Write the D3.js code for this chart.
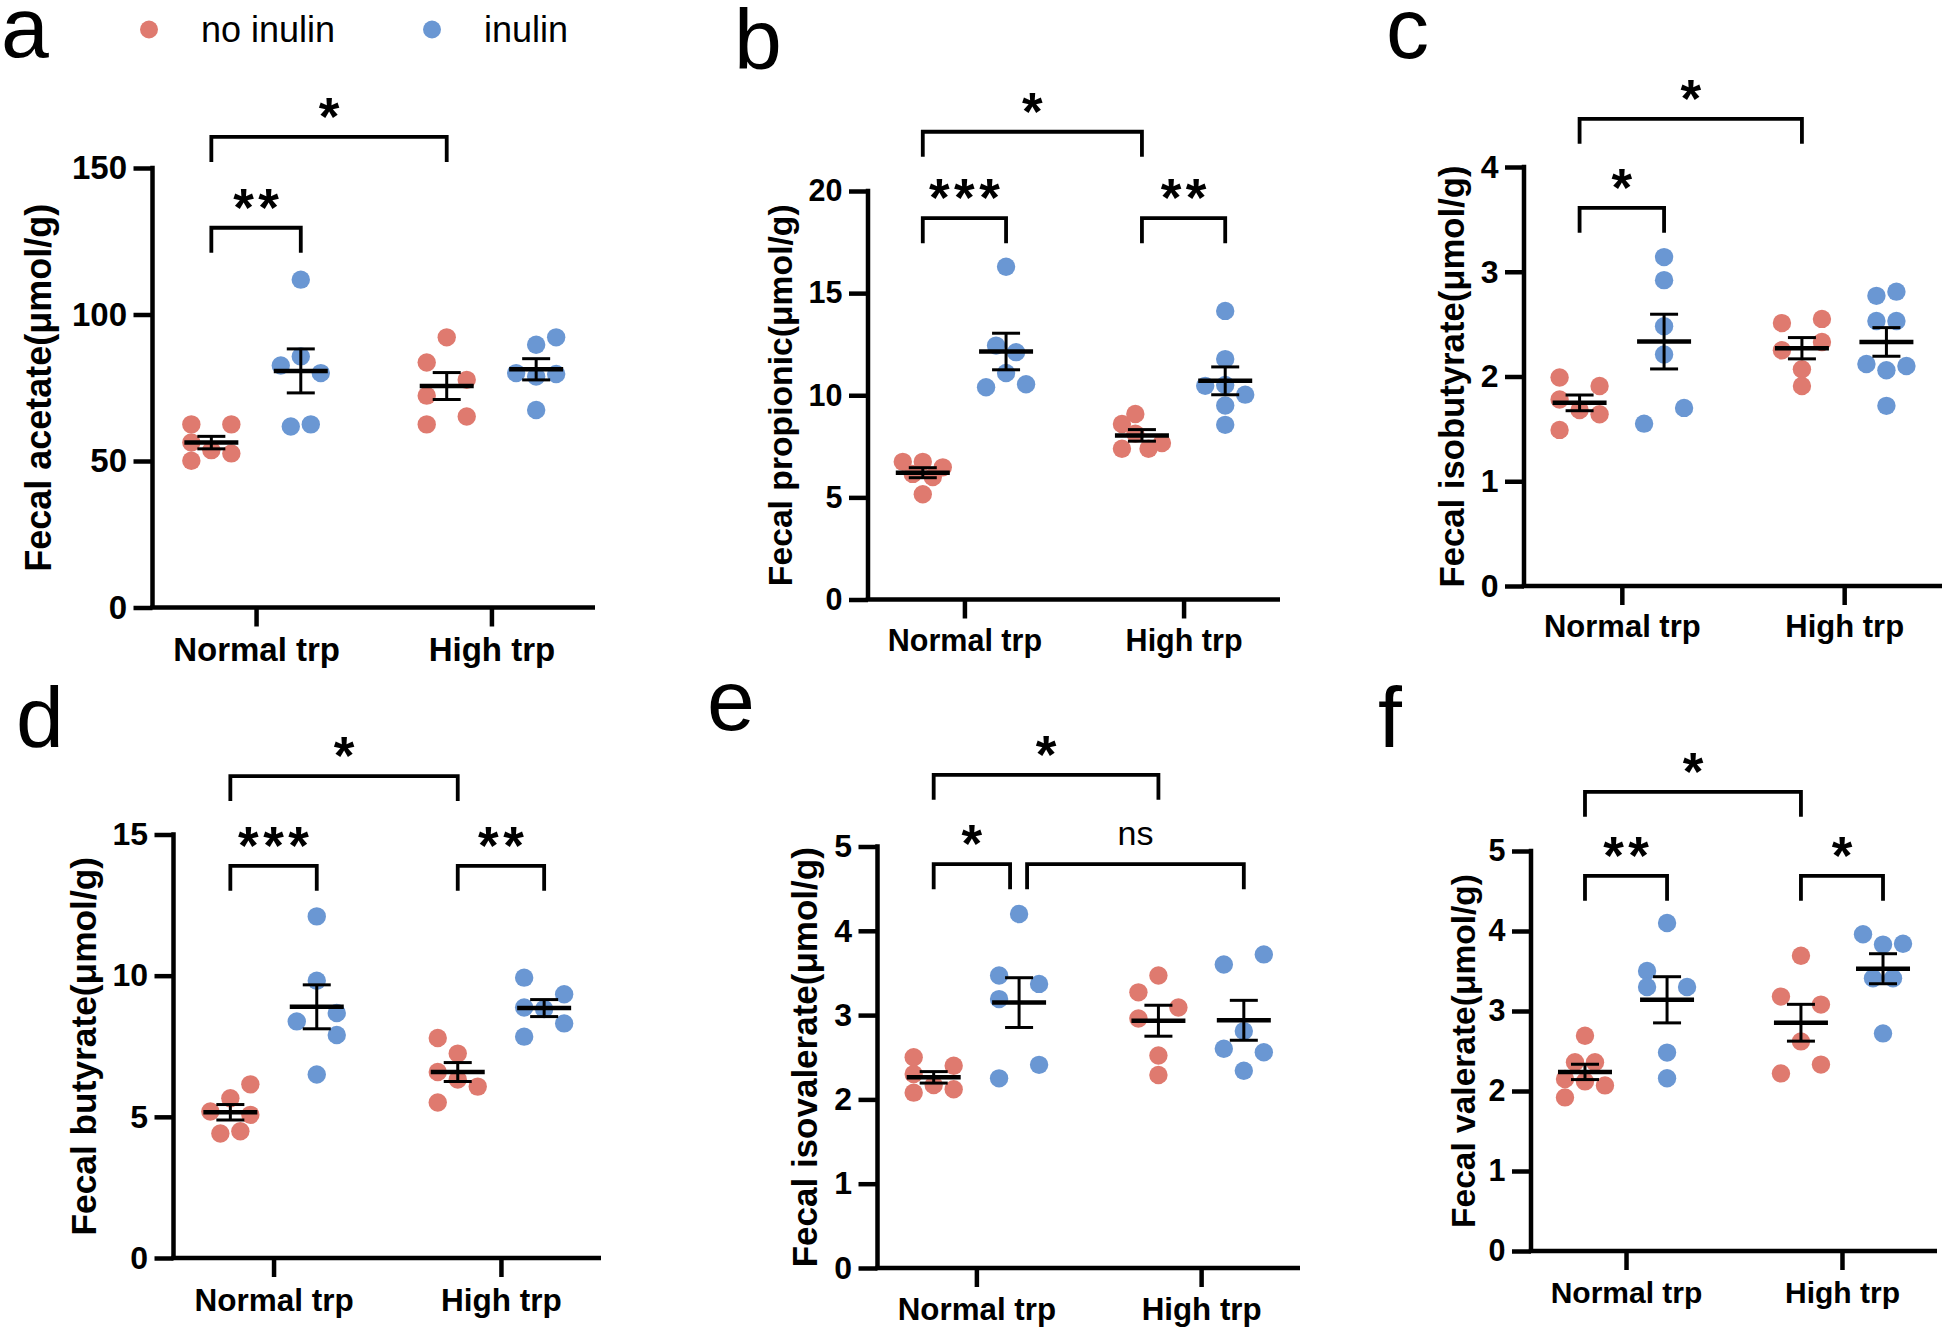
<!DOCTYPE html>
<html><head><meta charset="utf-8">
<script src="https://cdn.jsdelivr.net/npm/d3@7"></script>
<style>body{margin:0;background:#fff}svg{display:block}</style>
</head><body>
<svg id="chart" width="1950" height="1331"></svg>
<script>
// ---------- data ----------
const categories = ["Normal trp", "High trp"];
const seriesNames = ["no inulin", "inulin"];
const seriesColors = ["#DF7A6F", "#6A97D3"];

// a: acetate
const acetateNormalNo = [62.5, 62.5, 56.3, 53.7, 52.6, 50.1];
const acetateNormalIn = [111.9, 82.6, 85.7, 80.0, 61.8, 62.5];
const acetateHighNo   = [92.2, 83.6, 77.7, 72.3, 65.2, 62.5];
const acetateHighIn   = [92.2, 89.7, 80.0, 78.8, 79.7, 67.4];
const acetateJitter = [[-1, 1, -1, 0, 1, -1], [0, -1, 0, 1, -0.5, 0.5], [0, -1, 1, -1, 1, -1], [1, 0, -1, 0, 1, 0]];
const acetateTicks = [0, 50, 100, 150];

// b: propionic
const propionicNormalNo = [6.74, 6.74, 6.47, 6.15, 6.0, 5.15];
const propionicNormalIn = [16.29, 12.43, 12.11, 11.09, 10.39, 10.54];
const propionicHighNo   = [9.08, 8.59, 8.12, 7.38, 7.38, 7.66];
const propionicHighIn   = [14.13, 11.77, 10.46, 10.5, 10.03, 9.5, 8.55];
const propionicJitter = [[-1, 0, 1, -0.5, 0.5, 0], [0, -0.5, 0.5, 0, -1, 1], [-0.33, -1, -0.33, -1, 0.33, 1], [0, 0, -1, 0, 1, 0, 0]];
const propionicTicks = [0, 5, 10, 15, 20];

// c: isobutyrate
const isobutyrateNormalNo = [1.99, 1.91, 1.78, 1.68, 1.64, 1.49];
const isobutyrateNormalIn = [3.14, 2.92, 2.48, 2.21, 1.55, 1.70];
const isobutyrateHighNo   = [2.51, 2.55, 2.25, 2.33, 2.07, 1.91];
const isobutyrateHighIn   = [2.77, 2.81, 2.53, 2.53, 2.12, 2.06, 2.10, 1.72];
const isobutyrateJitter = [[-1, 1, -1, 0, 1, -1], [0, 0, 0, 0, -1, 1], [-1, 1, -1, 1, 0, 0], [-0.5, 0.5, -0.5, 0.5, -1, 0, 1, 0]];
const isobutyrateTicks = [0, 1, 2, 3, 4];

// d: butyrate
const butyrateNormalNo = [5.19, 5.66, 6.15, 5.07, 4.41, 4.49];
const butyrateNormalIn = [12.1, 9.82, 8.38, 8.68, 7.9, 6.5];
const butyrateHighNo   = [7.79, 7.24, 6.59, 6.32, 6.07, 5.51];
const butyrateHighIn   = [9.93, 9.34, 8.87, 8.82, 8.31, 7.84];
const butyrateJitter = [[-1, 0, 1, 1, -0.5, 0.5], [0, 0, -1, 1, 1, 0], [-1, 0, -1, 0, 1, -1], [-1, 1, -1, 0, 1, -1]];
const butyrateTicks = [0, 5, 10, 15];

// e: isovalerate
const isovalerateNormalNo = [2.50, 2.40, 2.30, 2.17, 2.12, 2.08];
const isovalerateNormalIn = [4.20, 3.47, 3.37, 3.19, 2.41, 2.25];
const isovalerateHighNo   = [3.47, 3.27, 3.09, 2.96, 2.52, 2.29];
const isovalerateHighIn   = [3.72, 3.60, 2.81, 2.60, 2.56, 2.34];
const isovalerateJitter = [[-1, 1, -1, 0, 1, -1], [0, -1, 1, -1, 1, -1], [0, -1, 1, -1, 0, 0], [1, -1, 0, -1, 1, 0]];
const isovalerateTicks = [0, 1, 2, 3, 4, 5];

// f: valerate
const valerateNormalNo = [2.69, 2.36, 2.36, 2.15, 2.12, 2.07, 1.92];
const valerateNormalIn = [4.10, 3.50, 3.30, 3.30, 2.48, 2.16];
const valerateHighNo   = [3.69, 3.18, 3.08, 2.62, 2.33, 2.22];
const valerateHighIn   = [3.96, 3.83, 3.84, 3.41, 3.41, 2.72];
const valerateJitter = [[0, -0.5, 0.5, -1, 0, 1, -1], [0, -1, -1, 1, 0, 0], [0, -1, 1, 0, 1, -1], [-1, 0, 1, -0.5, 0.5, 0]];
const valerateTicks = [0, 1, 2, 3, 4, 5];

// significance brackets: group index 0 NormalNo, 1 NormalIn, 2 HighNo, 3 HighIn; level in data units
const acetateSig = [{a: 0, b: 2, level: 160.6, label: "*"}, {a: 0, b: 1, level: 129.6, label: "**"}];
const propionicSig = [{a: 0, b: 2, level: 22.9, label: "*"}, {a: 0, b: 1, level: 18.67, label: "***"}, {a: 2, b: 3, level: 18.67, label: "**"}];
const isobutyrateSig = [{a: 0, b: 2, level: 4.46, label: "*"}, {a: 0, b: 1, level: 3.61, label: "*"}];
const butyrateSig = [{a: 0, b: 2, level: 17.07, label: "*"}, {a: 0, b: 1, level: 13.89, label: "***"}, {a: 2, b: 3, level: 13.89, label: "**"}];
const isovalerateSig = [{a: 0, b: 2, level: 5.85, label: "*"}, {a: 0, b: 1, level: 4.79, label: "*", trimB: 9}, {a: 1, b: 3, level: 4.79, label: "ns", trimA: 8}];
const valerateSig = [{a: 0, b: 2, level: 5.74, label: "*"}, {a: 0, b: 1, level: 4.69, label: "**"}, {a: 2, b: 3, level: 4.69, label: "*"}];

// ---------- layout ----------
const FONT = "'Liberation Sans', Arial, Helvetica, sans-serif";
const panels = [
  {letter: "a", lx: 1, ly: 57, title: "Fecal acetate(\u03bcmol/g)", groups: [acetateNormalNo, acetateNormalIn, acetateHighNo, acetateHighIn], jitter: acetateJitter, ticks: acetateTicks, sig: acetateSig,
   x0: 152.5, x1: 595, y0: 607.5, yTop: 168, titleX: 38, tickFs: 33, labFs: 33, titleFs: 36, labOff: 53.5},
  {letter: "b", lx: 734, ly: 69, title: "Fecal propionic(\u03bcmol/g)", groups: [propionicNormalNo, propionicNormalIn, propionicHighNo, propionicHighIn], jitter: propionicJitter, ticks: propionicTicks, sig: propionicSig,
   x0: 868, x1: 1280, y0: 599.5, yTop: 191, titleX: 780, tickFs: 30.5, labFs: 30.5, titleFs: 33.7, labOff: 51},
  {letter: "c", lx: 1386, ly: 58, title: "Fecal isobutyrate(\u03bcmol/g)", groups: [isobutyrateNormalNo, isobutyrateNormalIn, isobutyrateHighNo, isobutyrateHighIn], jitter: isobutyrateJitter, ticks: isobutyrateTicks, sig: isobutyrateSig,
   x0: 1524, x1: 1942, y0: 586, yTop: 167, titleX: 1452, tickFs: 32, labFs: 31, titleFs: 34.7, labOff: 50.5},
  {letter: "d", lx: 16, ly: 747, title: "Fecal butyrate(\u03bcmol/g)", groups: [butyrateNormalNo, butyrateNormalIn, butyrateHighNo, butyrateHighIn], jitter: butyrateJitter, ticks: butyrateTicks, sig: butyrateSig,
   x0: 173.5, x1: 601, y0: 1258, yTop: 834.5, titleX: 83, tickFs: 32, labFs: 31.5, titleFs: 35.3, labOff: 53},
  {letter: "e", lx: 707, ly: 730, title: "Fecal isovalerate(\u03bcmol/g)", groups: [isovalerateNormalNo, isovalerateNormalIn, isovalerateHighNo, isovalerateHighIn], jitter: isovalerateJitter, ticks: isovalerateTicks, sig: isovalerateSig,
   x0: 877.5, x1: 1300, y0: 1268, yTop: 846.5, titleX: 804, tickFs: 32, labFs: 31.3, titleFs: 35, labOff: 51.6},
  {letter: "f", lx: 1378, ly: 747, title: "Fecal valerate(\u03bcmol/g)", groups: [valerateNormalNo, valerateNormalIn, valerateHighNo, valerateHighIn], jitter: valerateJitter, ticks: valerateTicks, sig: valerateSig,
   x0: 1531, x1: 1937, y0: 1251, yTop: 851, titleX: 1463, tickFs: 30.5, labFs: 30, titleFs: 33.5, labOff: 52}
];

const svg = d3.select("#chart");
const AXW = 4.5, BRW = 3.8, JIT = 20, R = 9.2, TICK = 19;

function drawPanel(P) {
  const g = svg.append("g");
  const yMax = P.ticks[P.ticks.length - 1];
  const y = d3.scaleLinear().domain([0, yMax]).range([P.y0, P.yTop]);
  const x = d3.scalePoint().domain(categories).range([P.x0, P.x1]).padding(0.44);
  const off = x.step() * 0.19;
  const gx = gi => x(categories[Math.floor(gi / 2)]) + (gi % 2 === 0 ? -off : off);

  // panel letter
  g.append("text").attr("x", P.lx).attr("y", P.ly).text(P.letter)
    .attr("font-family", FONT).attr("font-size", 86).attr("fill", "#000");

  // y axis
  const ya = g.append("g").attr("transform", `translate(${P.x0},0)`)
    .call(d3.axisLeft(y).tickValues(P.ticks).tickSize(TICK).tickSizeOuter(0).tickPadding(6.5).tickFormat(d3.format("d")));
  ya.select(".domain").remove();
  ya.selectAll(".tick line").attr("stroke", "#000").attr("stroke-width", AXW);
  ya.selectAll(".tick text").attr("font-family", FONT).attr("font-size", P.tickFs).attr("font-weight", "bold").attr("fill", "#000");

  // x axis
  const xa = g.append("g").attr("transform", `translate(0,${P.y0})`)
    .call(d3.axisBottom(x).tickSize(TICK).tickSizeOuter(0).tickPadding(P.labOff - TICK - 0.71 * P.labFs));
  xa.select(".domain").remove();
  xa.selectAll(".tick line").attr("stroke", "#000").attr("stroke-width", AXW);
  xa.selectAll(".tick text").attr("font-family", FONT).attr("font-size", P.labFs).attr("font-weight", "bold").attr("fill", "#000");

  // axis lines
  g.append("line").attr("x1", P.x0).attr("x2", P.x0).attr("y1", P.y0).attr("y2", P.yTop - AXW / 2)
    .attr("stroke", "#000").attr("stroke-width", AXW);
  g.append("line").attr("x1", P.x0 - AXW / 2).attr("x2", P.x1).attr("y1", P.y0).attr("y2", P.y0)
    .attr("stroke", "#000").attr("stroke-width", AXW);

  // y title
  const cy = (P.y0 + P.yTop) / 2;
  g.append("text").attr("transform", `translate(${P.titleX},${cy}) rotate(-90)`)
    .attr("text-anchor", "middle").attr("dominant-baseline", "central")
    .attr("font-family", FONT).attr("font-size", P.titleFs).attr("font-weight", "bold").text(P.title);

  // dots
  P.groups.forEach((vals, gi) => {
    g.append("g").selectAll("circle").data(vals).join("circle")
      .attr("cx", (v, i) => gx(gi) + P.jitter[gi][i] * JIT)
      .attr("cy", v => y(v)).attr("r", R)
      .attr("fill", seriesColors[gi % 2]);
  });

  // mean +/- SEM
  P.groups.forEach((vals, gi) => {
    const m = d3.mean(vals), sem = d3.deviation(vals) / Math.sqrt(vals.length);
    const cx = gx(gi);
    g.append("line").attr("x1", cx - 27).attr("x2", cx + 27).attr("y1", y(m)).attr("y2", y(m))
      .attr("stroke", "#000").attr("stroke-width", 4.5);
    g.append("line").attr("x1", cx).attr("x2", cx).attr("y1", y(m - sem)).attr("y2", y(m + sem))
      .attr("stroke", "#000").attr("stroke-width", 3);
    [m - sem, m + sem].forEach(v => g.append("line").attr("x1", cx - 14).attr("x2", cx + 14)
      .attr("y1", y(v)).attr("y2", y(v)).attr("stroke", "#000").attr("stroke-width", 3));
  });

  // significance brackets
  P.sig.forEach(s => {
    const xa_ = gx(s.a) + (s.trimA || 0), xb_ = gx(s.b) - (s.trimB || 0), ly = y(s.level);
    g.append("path").attr("d", `M${xa_},${ly + 25}V${ly}H${xb_}V${ly + 25}`)
      .attr("fill", "none").attr("stroke", "#000").attr("stroke-width", BRW);
    const mx = (xa_ + xb_) / 2;
    if (s.label === "ns") {
      g.append("text").attr("x", mx).attr("y", ly - 19).attr("text-anchor", "middle")
        .attr("font-family", FONT).attr("font-size", 34).attr("fill", "#000").text(s.label);
    } else {
      const fs = 53, ls = 4.5;
      g.append("text").attr("x", mx + ls / 2).attr("y", ly - 2).attr("text-anchor", "middle")
        .attr("letter-spacing", ls)
        .attr("font-family", FONT).attr("font-size", fs).attr("font-weight", "bold").attr("fill", "#000").text(s.label);
    }
  });
}

panels.forEach(drawPanel);

// legend
const legend = svg.append("g");
const legendX = [149, 432];
seriesNames.forEach((name, i) => {
  legend.append("circle").attr("cx", legendX[i]).attr("cy", 29.5).attr("r", 9).attr("fill", seriesColors[i]);
  legend.append("text").attr("x", legendX[i] + 52).attr("y", 42).text(name)
    .attr("font-family", FONT).attr("font-size", 36).attr("fill", "#000");
});
</script>
</body></html>
